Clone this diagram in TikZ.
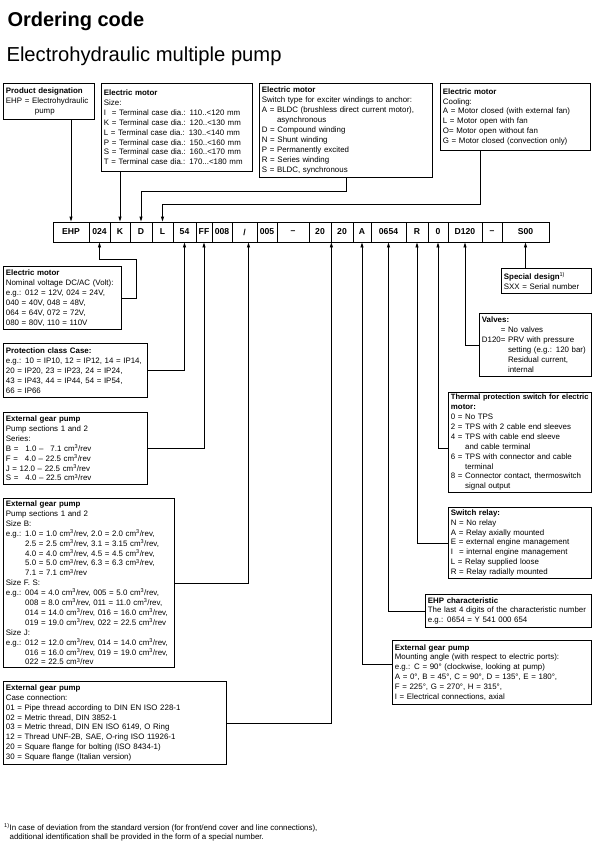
\documentclass[tikz,border=0pt]{standalone}
\usepackage{fontspec}
\setmainfont{Liberation Sans}
\usetikzlibrary{arrows.meta}
\newcommand{\boxfont}{\fontsize{7.9}{9.9}\selectfont}
\newcommand{\ccmrev}{cm\textsuperscript{3}/rev}
\newcommand{\eg}{\hphantom{e.g.: }}
\tikzset{
  infobox/.style={draw,line width=0.8pt,anchor=north west,align=left,inner xsep=2.5pt,inner ysep=1.5pt,font=\boxfont},
  codecell/.style={draw,line width=0.8pt,minimum height=20pt,inner sep=0pt,font=\fontsize{8.6}{10}\selectfont\bfseries},
  link/.style={->,line width=0.8pt}
}
\begin{document}
\begin{tikzpicture}[x=1pt,y=-1pt,>={Triangle[length=5pt,width=3pt]}]
\useasboundingbox (0,0) rectangle (602,846);
\node[anchor=base west,font=\fontsize{20}{24}\selectfont\bfseries] (title) at (4,26) {Ordering code};
\node[anchor=base west,font=\fontsize{20.2}{24}\selectfont] (subtitle) at (3,61) {Electrohydraulic multiple pump};
\foreach [count=\i] \code/\xa/\xb in {EHP/53/89, 024/89/110, K/110/130, D/130/152, L/152/173, 54/173/196, FF/196/212, 008/212/232, \slash/232/257, 005/257/277, –/277/309, 20/309/331, 20/331/353, A/353/371, 0654/371/406, R/406/428, 0/428/448, D120/448/482, –/482/502, S00/502/549}
  \node[codecell,minimum width=\xb-\xa] (c\i) at ({(\xa+\xb)/2},232) {\code};
\node[infobox,text width=86pt,minimum height=36pt] (prod) at (3,83)
  {\textbf{Product designation}\\EHP = Electrohydraulic\\\hspace*{29pt}pump};
\node[infobox,text width=146pt,minimum height=88pt] (msize) at (101,83)
  {\textbf{Electric motor}\\Size:\\\leavevmode\rlap{I}\hphantom{K} = Terminal case dia.: 110..<120 mm\\K = Terminal case dia.: 120..<130 mm\\L = Terminal case dia.: 130..<140 mm\\P = Terminal case dia.: 150..<160 mm\\S = Terminal case dia.: 160..<170 mm\\T = Terminal case dia.: 170...<180 mm};
\node[infobox,text width=168pt,minimum height=94pt] (mswitch) at (259,83)
  {\textbf{Electric motor}\\Switch type for exciter windings to anchor:\\A = BLDC (brushless direct current motor),\\\hphantom{A = }asynchronous\\D = Compound winding\\N = Shunt winding\\P = Permanently excited\\R = Series winding\\S = BLDC, synchronous};
\node[infobox,text width=145pt,minimum height=67pt] (mcool) at (440,83)
  {\textbf{Electric motor}\\Cooling:\\A = Motor closed (with external fan)\\L = Motor open with fan\\O= Motor open without fan\\G = Motor closed (convection only)};
\node[infobox,text width=113pt,minimum height=63pt] (mvolt) at (3,266)
  {\textbf{Electric motor}\\Nominal voltage DC/AC (Volt):\\e.g.: 012 = 12V, 024 = 24V,\\040 = 40V, 048 = 48V,\\064 = 64V, 072 = 72V,\\080 = 80V, 110 = 110V};
\node[infobox,text width=139pt,minimum height=54pt] (prot) at (3,343)
  {\textbf{Protection class Case:}\\e.g.: 10 = IP10, 12 = IP12, 14 = IP14,\\20 = IP20, 23 = IP23, 24 = IP24,\\43 = IP43, 44 = IP44, 54 = IP54,\\66 = IP66};
\node[infobox,text width=139pt,minimum height=72pt] (pseries) at (3,412)
  {\textbf{External gear pump}\\Pump sections 1 and 2\\Series:\\B = \hphantom{1}1.0 – \hphantom{2}7.1 \ccmrev\\F = \hphantom{1}4.0 – 22.5 \ccmrev\\J = 12.0 – 22.5 \ccmrev\\S = \hphantom{1}4.0 – 22.5 \ccmrev};
\node[infobox,text width=166pt,minimum height=169pt] (psize) at (3,498)
  {\textbf{External gear pump}\\Pump sections 1 and 2\\Size B:\\
   e.g.: 1.0 = 1.0 \ccmrev, 2.0 = 2.0 \ccmrev,\\
   \eg2.5 = 2.5 \ccmrev, 3.1 = 3.15 \ccmrev,\\
   \eg4.0 = 4.0 \ccmrev, 4.5 = 4.5 \ccmrev,\\
   \eg5.0 = 5.0 \ccmrev, 6.3 = 6.3 \ccmrev,\\
   \eg7.1 = 7.1 \ccmrev\\
   Size F. S:\\
   e.g.: 004 = 4.0 \ccmrev, 005 = 5.0 \ccmrev,\\
   \eg008 = 8.0 \ccmrev, 011 = 11.0 \ccmrev,\\
   \eg014 = 14.0 \ccmrev, 016 = 16.0 \ccmrev,\\
   \eg019 = 19.0 \ccmrev, 022 = 22.5 \ccmrev\\
   Size J:\\
   e.g.: 012 = 12.0 \ccmrev, 014 = 14.0 \ccmrev,\\
   \eg016 = 16.0 \ccmrev, 019 = 19.0 \ccmrev,\\
   \eg022 = 22.5 \ccmrev};
\node[infobox,text width=218pt,minimum height=83pt] (pcase) at (3,681)
  {\textbf{External gear pump}\\Case connection:\\01 = Pipe thread according to DIN EN ISO 228-1\\02 = Metric thread, DIN 3852-1\\03 = Metric thread, DIN EN ISO 6149, O Ring\\12 = Thread UNF-2B, SAE, O-ring ISO 11926-1\\20 = Square flange for bolting (ISO 8434-1)\\30 = Square flange (Italian version)};
\node[infobox,text width=85pt,minimum height=25pt] (special) at (501,268)
  {\textbf{Special design}\textsuperscript{1)}\\SXX = Serial number};
\node[infobox,text width=107pt,minimum height=63pt] (valves) at (479,313)
  {\textbf{Valves:}\\\hphantom{D120}= No valves\\D120= PRV with pressure\\\hphantom{D120= }setting (e.g.: 120 bar)\\\hphantom{D120= }Residual current,\\\hphantom{D120= }internal};
\node[infobox,text width=138pt,minimum height=100pt] (tps) at (448,392)
  {\textbf{\fontsize{7.6}{9.9}\selectfont Thermal protection switch for electric}\\\textbf{motor:}\\0 = No TPS\\2 = TPS with 2 cable end sleeves\\4 = TPS with cable end sleeve\\\hphantom{4 = }and cable terminal\\6 = TPS with connector and cable\\\hphantom{6 = }terminal\\8 = Connector contact, thermoswitch\\\hphantom{8 = }signal output};
\node[infobox,text width=138pt,minimum height=71pt] (relay) at (448,507)
  {\textbf{Switch relay:}\\N = No relay\\A = Relay axially mounted\\E = external engine management\\\leavevmode\rlap{I}\hphantom{N} = internal engine management\\L = Relay supplied loose\\R = Relay radially mounted};
\node[infobox,text width=161pt,minimum height=33pt] (ehpchar) at (425,594)
  {\textbf{EHP characteristic}\\The last 4 digits of the characteristic number\\e.g.: 0654 = Y 541 000 654};
\node[infobox,text width=194pt,minimum height=64pt] (pmount) at (392,640)
  {\textbf{External gear pump}\\Mounting angle (with respect to electric ports):\\e.g.: C = 90° (clockwise, looking at pump)\\A = 0°, B = 45°, C = 90°, D = 135°, E = 180°,\\F = 225°, G = 270°, H = 315°,\\I = Electrical connections, axial};
\node[anchor=north west,align=left,inner sep=0pt,font=\boxfont] (note) at (4,823)
  {\textsuperscript{1)}In case of deviation from the standard version (for front/end cover and line connections),\\\hphantom{\textsuperscript{1)}}additional identification shall be provided in the form of a special number.};
\draw[link] (c1 |- prod.south) -- (c1.north);
\draw[link] (c3 |- msize.south) -- (c3.north);
\draw[link] (mswitch.south) |- (c4 |- 0,191) -- (c4.north);
\draw[link] ([xshift=-35pt]mcool.south) |- (c5 |- 0,204) -- (c5.north);
\draw[link] (mvolt.east) -| (136,259) -| (c2.south);
\draw[link] (prot.east) -| (c6.south);
\draw[link] (pseries.east) -| (c7.south);
\draw[link] (psize.east) -| ([xshift=4pt]c9.south);
\draw[link] (pcase.east) -| (c12.south east);
\draw[link] (pmount.west) ++(0,-8) -| (c14.south);
\draw[link] (ehpchar.west) -| (c15.south);
\draw[link] (relay.west) -| (c16.south);
\draw[link] (tps.west) ++(0,6) -| (c17.south);
\draw[link] (valves.west) -| (c18.south);
\draw[link] (c20 |- special.north) -- (c20.south);
\end{tikzpicture}
\end{document}
